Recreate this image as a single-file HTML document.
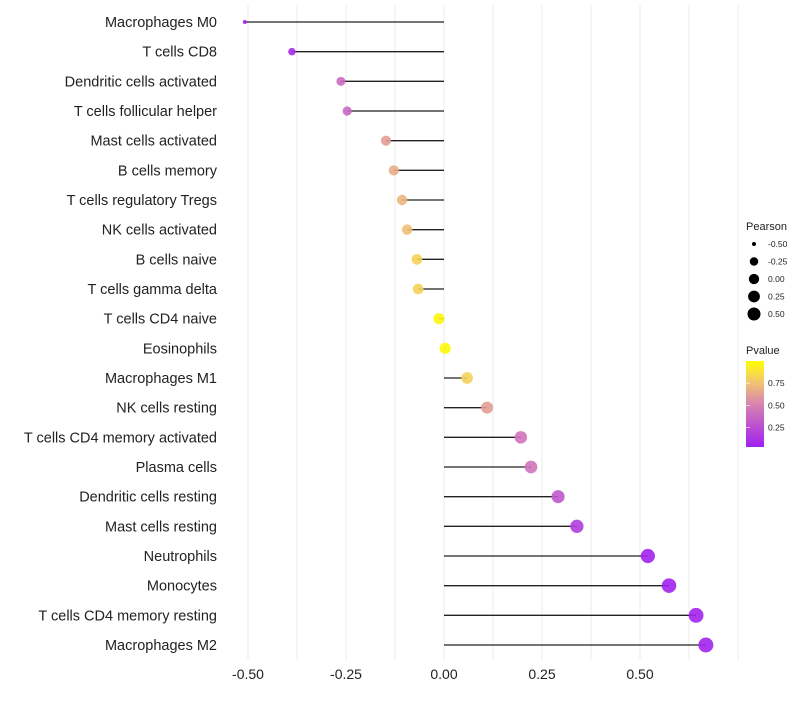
<!DOCTYPE html>
<html><head><meta charset="utf-8"><style>
body{margin:0;background:#fff;font-family:"Liberation Sans",sans-serif}
</style></head><body>
<svg id="chart" width="800" height="700" xmlns="http://www.w3.org/2000/svg">
<defs><linearGradient id="pg" x1="0" y1="1" x2="0" y2="0">
<stop offset="0" stop-color="#a020f0"/><stop offset="0.5" stop-color="#d884b0"/><stop offset="0.75" stop-color="#f2c472"/><stop offset="1" stop-color="#ffff00"/></linearGradient></defs>
<g id="grid"></g><g id="marks"></g><g id="labels"></g><g id="legend"></g>
</svg>
<script>
const categories=["Macrophages M0","T cells CD8","Dendritic cells activated","T cells follicular helper","Mast cells activated","B cells memory","T cells regulatory  Tregs","NK cells activated","B cells naive","T cells gamma delta","T cells CD4 naive","Eosinophils","Macrophages M1","NK cells resting","T cells CD4 memory activated","Plasma cells","Dendritic cells resting","Mast cells resting","Neutrophils","Monocytes","T cells CD4 memory resting","Macrophages M2"];
const pearson=[-0.508,-0.388,-0.263,-0.247,-0.148,-0.128,-0.107,-0.094,-0.069,-0.066,-0.013,0.003,0.059,0.110,0.196,0.222,0.291,0.339,0.520,0.574,0.643,0.668];
const pvalue=[0.01,0.06,0.38,0.36,0.6,0.66,0.7,0.73,0.8,0.8,0.96,0.98,0.8,0.6,0.42,0.42,0.28,0.15,0.02,0.02,0.02,0.02];
const xTicks=[-0.5,-0.25,0,0.25,0.5];
const xTickLabels=["-0.50","-0.25","0.00","0.25","0.50"];
const sizeBreaks=[-0.5,-0.25,0,0.25,0.5];
const sizeLabels=["-0.50","-0.25","0.00","0.25","0.50"];
const pBreaks=[0.25,0.5,0.75];
const pLabels=["0.25","0.50","0.75"];
const NS="http://www.w3.org/2000/svg";
const x=v=>444+v*392;
const y=i=>22+i*(623/21);
const r=v=>2+5.5*Math.sqrt(Math.max(0,(v+0.508)/1.176));
const rl=v=>2+4.5*Math.sqrt(Math.max(0,(v+0.5)/1.0));
const stops=[[0,[160,32,240]],[0.5,[216,132,176]],[0.75,[242,196,114]],[1,[255,255,0]]];
function col(p){for(let k=1;k<stops.length;k++){if(p<=stops[k][0]){const a=stops[k-1],b=stops[k],t=(p-a[0])/(b[0]-a[0]);return "rgb("+a[1].map((c,j)=>Math.round(c+(b[1][j]-c)*t)).join(",")+")";}}return "rgb(255,255,0)";}
function mk(tag,at,parent,txt){const e=document.createElementNS(NS,tag);for(const k in at)e.setAttribute(k,at[k]);if(txt!==undefined)e.textContent=txt;document.getElementById(parent).appendChild(e);return e;}
for(let v=-0.5;v<=0.76;v+=0.125){const g=mk("line",{x1:x(v),x2:x(v),y1:5,y2:660,stroke:"#ebebeb","stroke-width":1},"grid");

}
xTicks.forEach((t,i)=>{const e=mk("text",{x:x(t),y:679,"text-anchor":"middle","font-size":"14",fill:"#222"},"labels",xTickLabels[i]);

});
categories.forEach((c,i)=>{
const l=mk("text",{x:217,y:y(i)+5,"text-anchor":"end","font-size":"14.5",fill:"#222"},"labels",c);


const s=mk("line",{x1:x(0),x2:x(pearson[i]),y1:y(i),y2:y(i),stroke:"#222","stroke-width":1.3},"marks");


const d=mk("circle",{cx:x(pearson[i]),cy:y(i),r:r(pearson[i]),fill:col(pvalue[i]),"fill-opacity":0.9},"marks");


});
const t1=mk("text",{x:746,y:230,"font-size":"11",fill:"#222"},"legend","Pearson");


sizeBreaks.forEach((b,i)=>{const cy=244+i*17.5;
const c=mk("circle",{cx:754,cy:cy,r:rl(b),fill:"#000"},"legend");


const tx=mk("text",{x:768,y:cy+3,"font-size":"8.5",fill:"#222"},"legend",sizeLabels[i]);

});
const t2=mk("text",{x:746,y:354,"font-size":"11",fill:"#222"},"legend","Pvalue");


const bar=mk("rect",{x:746,y:361,width:18,height:86,fill:"url(#pg)"},"legend");


const py=p=>447-(p-0.03)/0.97*86;
pBreaks.forEach((p,i)=>{
const tk=mk("line",{x1:746,x2:750,y1:py(p),y2:py(p),stroke:"#fff","stroke-width":0.6},"legend");


const tx=mk("text",{x:768,y:py(p)+3,"font-size":"8.5",fill:"#222"},"legend",pLabels[i]);

});
</script>
</body></html>
